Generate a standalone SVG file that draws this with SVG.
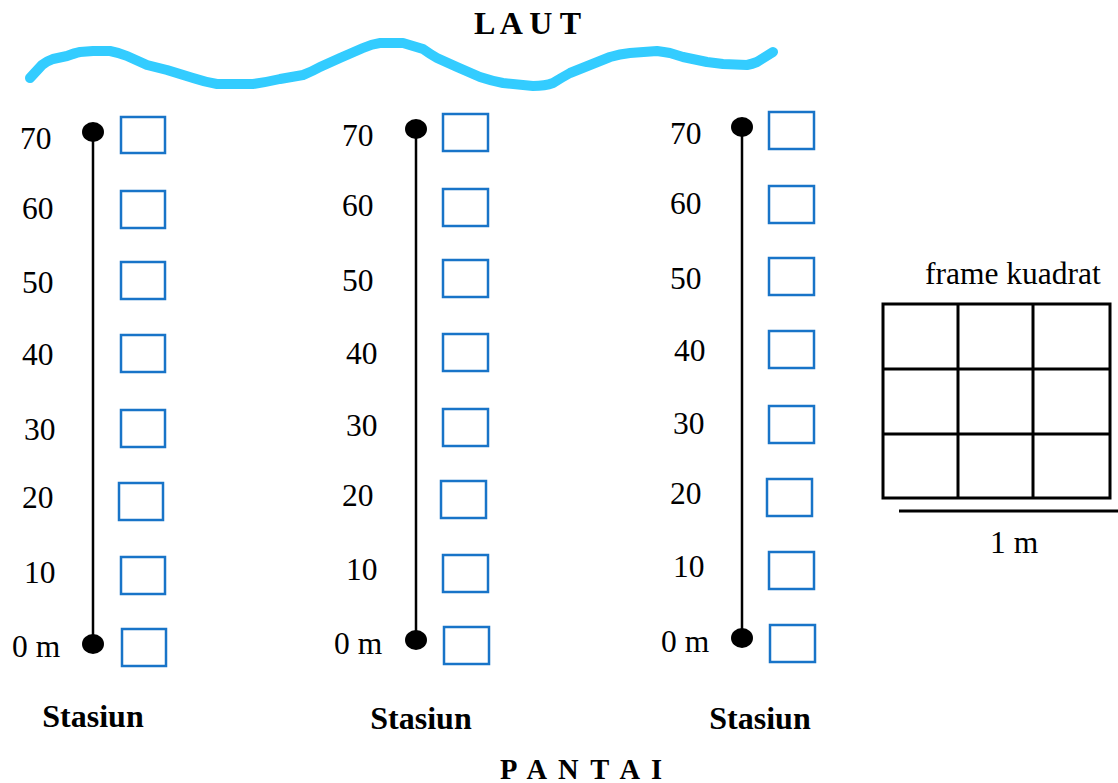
<svg xmlns="http://www.w3.org/2000/svg" width="1118" height="783" viewBox="0 0 1118 783">
<style>
text{font-family:"Liberation Serif","Times New Roman",serif;fill:#000}
.n{font-size:31.5px}
.b{font-size:32px;font-weight:bold}
.q{fill:#fff;stroke:#1874C8;stroke-width:2.5}
.ln{stroke:#000;stroke-width:2.5}
.g{fill:none;stroke:#000;stroke-width:3}
</style>
<rect width="1118" height="783" fill="#fff"/>
<g id="sea">
<path d="M30,78 L42,65 Q47,61 53,59 L67,56 Q75,53 80,52 L93,51 L110,51 Q120,53 127,56 L147,65 L167,70 L193,78 Q205,82 217,84 L253,84 Q267,82 280,79 L303,75 Q313,71 320,67 L340,58 L363,48 Q372,44 380,43 L403,43 Q413,46 423,49 Q430,54 437,58 L457,67 L480,77 Q492,81 503,83 L533,86 Q545,86 553,83 Q561,78 570,73 L590,65 L610,57 Q620,54 630,53 L657,51 Q664,52 670,53 L683,57 L707,62 L723,64 L747,65 Q752,64 757,62 L773,52" fill="none" stroke="#33CCFF" stroke-width="10" stroke-linecap="round" stroke-linejoin="round"/>
<text class="b" x="474" y="34">L A U T</text>
</g>
<g id="station1">
<line class="ln" x1="93" y1="132" x2="93" y2="644"/>
<ellipse cx="93" cy="132" rx="11" ry="10"/>
<ellipse cx="93" cy="644" rx="11" ry="10"/>
<rect class="q" x="121" y="117" width="44" height="36"/>
<rect class="q" x="121" y="191" width="44" height="37"/>
<rect class="q" x="121" y="262" width="44" height="37"/>
<rect class="q" x="121" y="335" width="44" height="37"/>
<rect class="q" x="121" y="410" width="44" height="37"/>
<rect class="q" x="119" y="483" width="44" height="37"/>
<rect class="q" x="121" y="557" width="44" height="37"/>
<rect class="q" x="122" y="629" width="44" height="37"/>
<text class="n" x="20" y="149">70</text>
<text class="n" x="22" y="219">60</text>
<text class="n" x="22" y="293">50</text>
<text class="n" x="22" y="365">40</text>
<text class="n" x="24" y="440">30</text>
<text class="n" x="22" y="508">20</text>
<text class="n" x="24" y="583">10</text>
<text class="n" x="12" y="657">0 m</text>
<text class="b" x="93" y="727" text-anchor="middle">Stasiun</text>
</g>
<g id="station2">
<line class="ln" x1="416" y1="129" x2="416" y2="640"/>
<ellipse cx="416" cy="129" rx="11" ry="10"/>
<ellipse cx="416" cy="640" rx="11" ry="10"/>
<rect class="q" x="443" y="114" width="45" height="37"/>
<rect class="q" x="443" y="189" width="45" height="37"/>
<rect class="q" x="443" y="260" width="45" height="37"/>
<rect class="q" x="443" y="334" width="45" height="37"/>
<rect class="q" x="443" y="409" width="45" height="37"/>
<rect class="q" x="441" y="481" width="45" height="37"/>
<rect class="q" x="443" y="555" width="45" height="37"/>
<rect class="q" x="444" y="627" width="45" height="37"/>
<text class="n" x="342" y="146">70</text>
<text class="n" x="342" y="216">60</text>
<text class="n" x="342" y="291">50</text>
<text class="n" x="346" y="364">40</text>
<text class="n" x="346" y="436">30</text>
<text class="n" x="342" y="506">20</text>
<text class="n" x="346" y="580">10</text>
<text class="n" x="334" y="654">0 m</text>
<text class="b" x="421" y="729" text-anchor="middle">Stasiun</text>
</g>
<g id="station3">
<line class="ln" x1="742" y1="127" x2="742" y2="638"/>
<ellipse cx="742" cy="127" rx="11" ry="10"/>
<ellipse cx="742" cy="638" rx="11" ry="10"/>
<rect class="q" x="769" y="112" width="45" height="37"/>
<rect class="q" x="769" y="186" width="45" height="37"/>
<rect class="q" x="769" y="258" width="45" height="37"/>
<rect class="q" x="769" y="331" width="45" height="37"/>
<rect class="q" x="769" y="406" width="45" height="37"/>
<rect class="q" x="767" y="479" width="45" height="37"/>
<rect class="q" x="769" y="552" width="45" height="37"/>
<rect class="q" x="770" y="625" width="45" height="37"/>
<text class="n" x="670" y="144">70</text>
<text class="n" x="670" y="214">60</text>
<text class="n" x="670" y="289">50</text>
<text class="n" x="674" y="361">40</text>
<text class="n" x="673" y="434">30</text>
<text class="n" x="670" y="504">20</text>
<text class="n" x="673" y="577">10</text>
<text class="n" x="661" y="652">0 m</text>
<text class="b" x="760" y="729" text-anchor="middle">Stasiun</text>
</g>
<g id="frame">
<text class="n" x="925" y="284">frame kuadrat</text>
<rect class="g" x="883" y="304" width="227" height="194"/>
<line class="g" x1="958" y1="304" x2="958" y2="498"/>
<line class="g" x1="1033" y1="304" x2="1033" y2="498"/>
<line class="g" x1="883" y1="369" x2="1110" y2="369"/>
<line class="g" x1="883" y1="434" x2="1110" y2="434"/>
<line class="g" x1="899" y1="511" x2="1118" y2="511"/>
<text class="n" x="990" y="553">1 m</text>
</g>
<text x="500" y="779" font-size="28.5" font-weight="bold" letter-spacing="2.6">P A N T A I</text>
</svg>
